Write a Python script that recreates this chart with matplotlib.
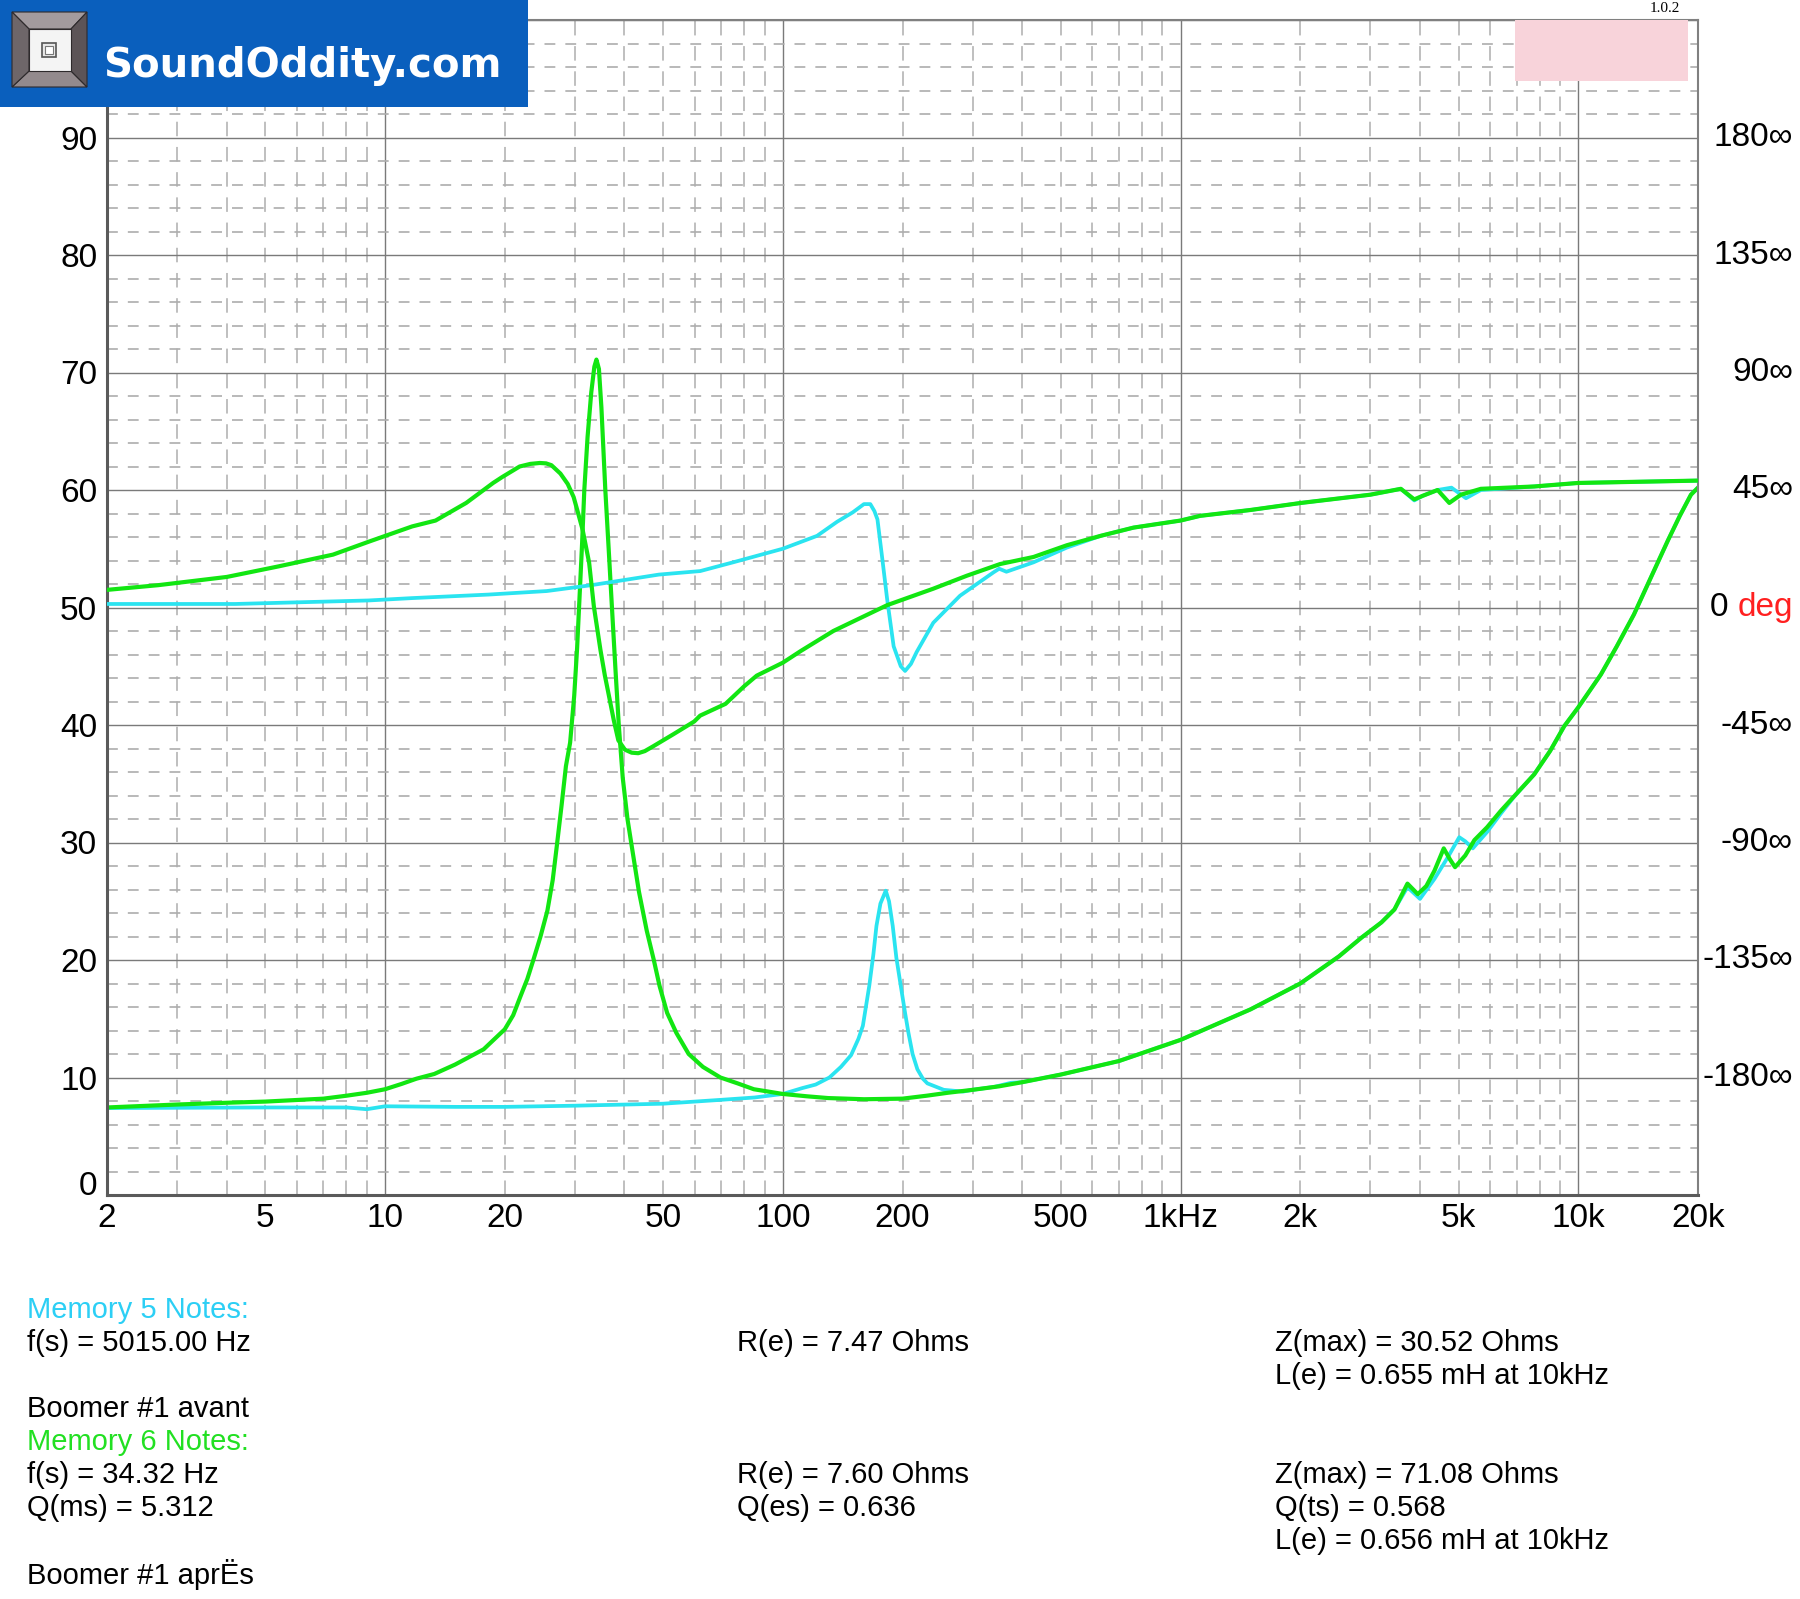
import matplotlib
matplotlib.use('Agg')
import matplotlib.pyplot as plt
from matplotlib.patches import Rectangle, Polygon
from matplotlib.ticker import FixedLocator, FixedFormatter
from matplotlib.transforms import blended_transform_factory

plt.rcParams['font.family'] = ['Liberation Sans', 'DejaVu Sans']

# Memory 6 (green) - Boomer #1 apres : impedance (ohms) and phase (deg)
m6_freq_z = [2, 3, 4, 5, 7, 8, 9, 10, 11, 12, 13.3, 15, 17.7, 20, 21, 21.9, 22.8,
             23.6, 24.6, 25.6, 26.4, 27.1, 27.8, 28.5, 29.2, 29.9, 30.4, 30.8, 31.3,
             31.7, 32.3, 33.0, 33.6, 34.0, 34.5, 35.0, 35.8, 36.5, 37.2, 38.0, 38.7,
             39.6, 40.7, 41.8, 43.5, 45.5, 47.4, 49, 51.2, 54, 58, 63, 69.7, 77, 84.6,
             92, 100, 115, 130, 160, 200, 230, 260, 300, 350, 400, 500, 700, 1000,
             1500, 2000, 2500, 2850, 3200, 3450, 3720, 3950, 4150, 4350, 4590, 4750,
             4900, 5200, 5480, 5900, 6390, 6970, 7750, 8500, 9220, 10000, 11400,
             12500, 13800, 15200, 16800, 18000, 19200, 20000]
m6_z = [7.45, 7.7, 7.85, 7.95, 8.2, 8.45, 8.7, 9.0, 9.45, 9.9, 10.3, 11.1, 12.4, 14.1,
        15.3, 16.9, 18.4, 20.0, 22.0, 24.2, 26.8, 30.0, 33.2, 36.5, 38.5, 42.5, 46.5,
        50.5, 55.5, 60.0, 64.5, 68.3, 70.5, 71.1, 70.3, 67.0, 60.0, 55.0, 50.0, 44.5,
        40.0, 35.5, 32.0, 29.5, 25.8, 22.5, 20.0, 17.8, 15.5, 13.8, 12.0, 10.9, 10.0,
        9.5, 9.0, 8.8, 8.6, 8.4, 8.25, 8.15, 8.2, 8.45, 8.7, 8.95, 9.25, 9.6, 10.25,
        11.4, 13.2, 15.8, 18.0, 20.3, 21.9, 23.2, 24.3, 26.5, 25.6, 26.3, 27.6, 29.5,
        28.6, 27.9, 28.9, 30.2, 31.3, 32.7, 34.1, 35.8, 37.8, 39.9, 41.5, 44.3, 46.7,
        49.4, 52.5, 55.7, 57.8, 59.6, 60.2]
m6_freq_ph = [2, 2.69, 4, 5.4, 7.4, 9.1, 11.7, 13.4, 16.0, 18.7, 19.7, 21.8, 23.2, 24.5,
              25.4, 26.2, 27.6, 28.8, 29.8, 30.6, 31.4, 32.6, 33.5, 34.8, 35.7, 36.6,
              37.6, 38.6, 40.1, 41.7, 43.3, 45, 47.3, 53, 59.9, 62, 71.8, 80, 86, 100,
              111, 134, 183, 239, 290, 352, 427, 518, 630, 762, 1000, 1120, 1500, 2010,
              3000, 3580, 3870, 4060, 4430, 4740, 5070, 5690, 7750, 10000, 20000]
m6_phase = [6.75, 8.55, 11.7, 15.75, 20.25, 25.2, 31.05, 33.3, 40.05, 47.7, 49.95,
            54.0, 55.0, 55.35, 55.2, 54.5, 51.3, 47.3, 42.3, 36.0, 29.7, 17.1, 0.45,
            -16.2, -26.0, -34.2, -43.2, -50.85, -54.45, -55.6, -55.8, -55.0, -53.1,
            -48.6, -43.65, -41.4, -36.9, -30.15, -26.1, -21.15, -16.65, -9.0, 0.9, 7.2,
            12.15, 16.65, 19.35, 23.85, 27.45, 30.6, 33.3, 35.1, 37.35, 40.05, 43.2,
            45.45, 41.4, 42.75, 45.0, 40.05, 43.2, 45.45, 46.35, 47.7, 48.6]

# Memory 5 (cyan) - Boomer #1 avant
m5_freq_z = [2, 5, 8, 9, 10, 15, 20, 30, 50, 70, 85, 100, 112, 121, 131, 140, 148.5,
             155, 159, 165, 169, 172, 176, 181.5, 185, 189, 193, 198, 203, 207, 212,
             218, 225, 231, 254, 284, 300, 340, 375, 400, 500, 700, 1000, 1500, 2000,
             2500, 2850, 3200, 3450, 3720, 4000, 4350, 4700, 5020, 5200, 5430, 5900,
             6400, 6900, 7750, 8500, 9220, 10000, 11400, 12500, 13800, 15200, 16800,
             18000, 19200, 20000]
m5_z = [7.4, 7.45, 7.45, 7.3, 7.55, 7.5, 7.5, 7.6, 7.77, 8.1, 8.3, 8.6, 9.1, 9.4, 10.0,
        10.9, 11.9, 13.3, 14.4, 17.8, 20.5, 22.9, 24.8, 25.9, 25.0, 22.9, 20.2, 17.8,
        15.5, 13.8, 12.0, 10.7, 9.9, 9.5, 8.95, 8.8, 8.95, 9.2, 9.55, 9.6, 10.25, 11.4,
        13.2, 15.8, 18.0, 20.3, 21.9, 23.2, 24.3, 26.2, 25.2, 26.9, 28.75, 30.45, 30.1,
        29.5, 30.9, 32.5, 33.9, 35.8, 37.8, 39.9, 41.5, 44.3, 46.7, 49.4, 52.5, 55.7,
        57.8, 59.6, 60.2]
m5_freq_ph = [2, 4.2, 9.1, 11.7, 18.2, 25.5, 33, 48.8, 62, 75, 100, 122, 137, 150, 160,
              166, 170, 173, 178, 183, 190, 198, 203, 210, 217, 239, 279, 339, 350, 365,
              427, 518, 630, 762, 1000, 1120, 1500, 2010, 3000, 3580, 3870, 4060, 4430,
              4800, 5220, 5690, 7750, 10000, 20000]
m5_phase = [1.35, 1.35, 2.7, 3.6, 4.95, 6.3, 8.55, 12.6, 13.95, 17.3, 22.5, 27.45,
            32.85, 36.45, 39.6, 39.6, 36.9, 33.75, 18.45, 3.15, -14.85, -22.5, -24.3,
            -21.6, -17.1, -5.85, 4.5, 13.5, 14.85, 13.7, 17.3, 22.95, 27.45, 30.6, 33.3,
            35.1, 37.35, 40.05, 43.2, 45.45, 41.0, 42.75, 45.0, 45.9, 41.85, 45.0,
            46.35, 47.7, 48.6]

# axis labels
x_major_ticks = [10, 100, 1000, 10000]
x_major_labels = ['10', '100', '1kHz', '10k']
x_minor_named = {2: '2', 5: '5', 20: '20', 50: '50', 200: '200', 500: '500',
                 2000: '2k', 5000: '5k', 20000: '20k'}
phase_ticks = [180, 135, 90, 45, 0, -45, -90, -135, -180]

notes = [
    ('Memory 5 Notes:', 27, 1310, '#2ccff5'),
    ('f(s) = 5015.00 Hz', 27, 1343, 'black'),
    ('R(e) = 7.47 Ohms', 737, 1343, 'black'),
    ('Z(max) = 30.52 Ohms', 1275, 1343, 'black'),
    ('L(e) = 0.655 mH at 10kHz', 1275, 1376, 'black'),
    ('Boomer #1 avant', 27, 1409, 'black'),
    ('Memory 6 Notes:', 27, 1442, '#22e022'),
    ('f(s) = 34.32 Hz', 27, 1475, 'black'),
    ('R(e) = 7.60 Ohms', 737, 1475, 'black'),
    ('Z(max) = 71.08 Ohms', 1275, 1475, 'black'),
    ('Q(ms) = 5.312', 27, 1508, 'black'),
    ('Q(es) = 0.636', 737, 1508, 'black'),
    ('Q(ts) = 0.568', 1275, 1508, 'black'),
    ('L(e) = 0.656 mH at 10kHz', 1275, 1541, 'black'),
    ('Boomer #1 aprËs', 27, 1574, 'black'),
]

W, H = 1800, 1599
GREEN = '#12e612'
CYAN = '#2ae4f0'


def fx(px):
    return px / W


def fy(py):
    return 1 - py / H


fig = plt.figure(figsize=(18, 15.99), dpi=100)
ax = fig.add_axes([fx(107), fy(1195), fx(1698) - fx(107), fy(20) - fy(1195)])
ax.set_xscale('log')
ax.set_xlim(2, 20000)
ax.set_ylim(0, 100)

x_minor_ticks = [m * d for d in (1, 10, 100, 1000) for m in range(2, 10)] + [20000]
ax.xaxis.set_major_locator(FixedLocator(x_major_ticks))
ax.xaxis.set_major_formatter(FixedFormatter(x_major_labels))
ax.xaxis.set_minor_locator(FixedLocator(x_minor_ticks))
ax.xaxis.set_minor_formatter(FixedFormatter([x_minor_named.get(t, '') for t in x_minor_ticks]))

y_major = list(range(0, 101, 10))
ax.yaxis.set_major_locator(FixedLocator(y_major))
ax.yaxis.set_major_formatter(FixedFormatter([str(v) if v < 100 else '' for v in y_major]))
ax.yaxis.set_minor_locator(FixedLocator(list(range(0, 101, 2))))

ax.tick_params(which='both', length=0, labelsize=24)
ax.tick_params(axis='x', which='both', pad=6)
ax.tick_params(axis='y', which='both', pad=7)
ax.yaxis.get_major_ticks()[0].label1.set_verticalalignment('baseline')

ax.grid(which='major', color='#7a7a7a', lw=1.0, ls='-')
ax.xaxis.grid(which='minor', color='#adadad', lw=1.1, linestyle=(0, (9.5, 7)))
ax.yaxis.grid(which='minor', color='#adadad', lw=1.2, linestyle=(0, (6.5, 6)))
ax.set_axisbelow(True)

for side in ('left', 'bottom'):
    ax.spines[side].set_color('#5a5a5a')
    ax.spines[side].set_linewidth(2.2)
for side in ('top', 'right'):
    ax.spines[side].set_color('#808080')
    ax.spines[side].set_linewidth(1.5)

ax.plot(m5_freq_z, m5_z, color=CYAN, lw=2.7, solid_joinstyle='round')
ax.plot(m6_freq_z, m6_z, color=GREEN, lw=3.0, solid_joinstyle='round')

ax2 = ax.twinx()
ax2.set_ylim(-225, 225)
ax2.set_yticks([])
for sp in ax2.spines.values():
    sp.set_visible(False)
ax2.plot(m5_freq_ph, m5_phase, color=CYAN, lw=2.7, solid_joinstyle='round')
ax2.plot(m6_freq_ph, m6_phase, color=GREEN, lw=3.0, solid_joinstyle='round')

# right-hand phase labels
tr = blended_transform_factory(fig.transFigure, ax2.transData)
for p in phase_ticks:
    if p == 0:
        deg = ax2.text(fx(1793), p, 'deg', transform=tr, ha='right', va='center',
                       fontsize=24, color='#ff2020')
        fig.canvas.draw()
        bb = deg.get_window_extent()
        ax2.text(fx(bb.x0 - 9), p, '0', transform=tr, ha='right', va='center',
                 fontsize=24, color='black')
    else:
        ax2.text(fx(1793), p, f'{p}\u221e', transform=tr, ha='right', va='center',
                 fontsize=24, color='black')

# notes under the chart
for s, x, y, c in notes:
    fig.text(fx(x), fy(y), s, fontsize=21, color=c, va='center', ha='left')

# SoundOddity banner
fig.add_artist(Rectangle((0, fy(107)), fx(528), 107 / H, transform=fig.transFigure,
                         facecolor='#0a5fbd', edgecolor='none', zorder=10))
o0, o1, i0, i1 = 12, 87, 29, 71
bevel = [
    ([(o0, o0), (o1, o0), (i1, i0), (i0, i0)], '#a39b9e'),
    ([(o0, o1), (o1, o1), (i1, i1), (i0, i1)], '#938a8d'),
    ([(o0, o0), (i0, i0), (i0, i1), (o0, o1)], '#6e6669'),
    ([(o1, o0), (i1, i0), (i1, i1), (o1, o1)], '#5c5457'),
]
for pts, col in bevel:
    fig.add_artist(Polygon([(fx(a), fy(b)) for a, b in pts], closed=True,
                           transform=fig.transFigure, facecolor=col,
                           edgecolor='#2e2a2c', lw=0.8, zorder=11))
fig.add_artist(Rectangle((fx(i0), fy(i1)), fx(i1 - i0), (i1 - i0) / H,
                         transform=fig.transFigure, facecolor='#f4f4f4',
                         edgecolor='#2e2a2c', lw=0.8, zorder=11))
fig.add_artist(Rectangle((fx(42), fy(57)), fx(14), 14 / H, transform=fig.transFigure,
                         facecolor='#e8e8e8', edgecolor='#555555', lw=1.2, zorder=12))
fig.add_artist(Rectangle((fx(45), fy(54)), fx(8), 8 / H, transform=fig.transFigure,
                         facecolor='#ffffff', edgecolor='#777777', lw=0.8, zorder=12))
fig.text(fx(103), fy(66), 'SoundOddity.com', color='white', fontsize=29,
         fontweight='bold', family='DejaVu Sans', va='center', ha='left', zorder=12)

# pink tag box and version number
fig.add_artist(Rectangle((fx(1515), fy(81)), fx(173), 61 / H, transform=fig.transFigure,
                         facecolor='#f8d3da', edgecolor='none', zorder=10))
fig.text(fx(1665), fy(8), '1.0.2', fontsize=11, family='Liberation Serif',
         ha='center', va='center')

fig.savefig('out.png', dpi=100)
